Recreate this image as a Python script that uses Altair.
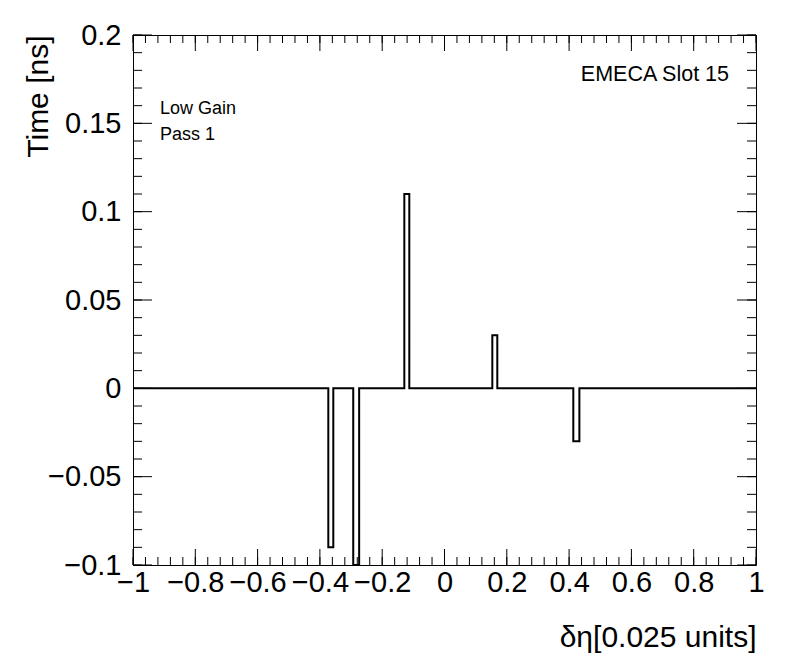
import altair as alt
import pandas as pd

# Histogram outline: bin edges (delta eta) and bin contents (time, ns)
edges = [-1.0, -0.373, -0.357, -0.293, -0.274, -0.129, -0.113, 0.1535, 0.1695, 0.4135, 0.433, 1.0]
contents = [0.0, -0.09, 0.0, -0.1, 0.0, 0.11, 0.0, 0.03, 0.0, -0.03, 0.0]

x_major = [-1, -0.8, -0.6, -0.4, -0.2, 0, 0.2, 0.4, 0.6, 0.8, 1]
y_major = [-0.1, -0.05, 0, 0.05, 0.1, 0.15, 0.2]

labels_left = ["Low Gain", "Pass 1"]
label_right = ["EMECA Slot 15"]

x_title = "δη[0.025 units]"
y_title = "Time [ns]"

W, H = 623, 530
FONT = "Liberation Sans"

x_minor = [round(-1 + 0.04 * i, 2) for i in range(51)]
y_minor = [round(-0.1 + 0.01 * i, 2) for i in range(31)]

xs = alt.Scale(domain=[-1, 1], nice=False, zero=False)
ys = alt.Scale(domain=[-0.1, 0.2], nice=False, zero=False)

step_df = pd.DataFrame({"x": edges, "y": contents + [contents[-1]]})

x_axis = alt.Axis(
    values=x_major, format="~g", ticks=False, tickSize=0, domain=False, grid=False,
    labelFont=FONT, labelFontSize=29, labelColor="black", labelPadding=3, labelFlush=False,
    title=x_title, titleFont=FONT, titleFontSize=30, titleFontWeight="normal", titleColor="black",
    titleX=W, titleY=72, titleAlign="right", titleBaseline="middle",
)
y_axis = alt.Axis(
    values=y_major, format="~g", ticks=False, tickSize=0, domain=False, grid=False,
    labelFont=FONT, labelFontSize=29, labelColor="black", labelPadding=12, labelFlush=False,
    title=y_title, titleFont=FONT, titleFontSize=30, titleFontWeight="normal", titleColor="black",
    titleX=-80, titleY=0, titleAlign="right", titleBaseline="bottom", titleAngle=270,
)

X = alt.X("x:Q", scale=xs, axis=x_axis)
Y = alt.Y("y:Q", scale=ys, axis=y_axis)

hist = alt.Chart(step_df).mark_line(
    interpolate="step-after", color="black", strokeWidth=2, clip=True
).encode(x=X, y=Y)


def tick_layer(vals, side, length):
    if side in ("bottom", "top"):
        df = pd.DataFrame({"x": vals})
    else:
        df = pd.DataFrame({"y": vals})
    base = alt.Chart(df).mark_rule(color="black", strokeWidth=1)
    if side == "bottom":
        return base.encode(x=X, y=alt.value(H), y2=alt.value(H - length))
    if side == "top":
        return base.encode(x=X, y=alt.value(0), y2=alt.value(length))
    if side == "left":
        return base.encode(y=Y, x=alt.value(0), x2=alt.value(length))
    return base.encode(y=Y, x=alt.value(W), x2=alt.value(W - length))


tick_layers = [
    tick_layer(x_major, "bottom", 16), tick_layer(x_minor, "bottom", 8),
    tick_layer(x_major, "top", 16), tick_layer(x_minor, "top", 8),
    tick_layer(y_major, "left", 19), tick_layer(y_minor, "left", 9),
    tick_layer(y_major, "right", 19), tick_layer(y_minor, "right", 9),
]

txt_l1 = alt.Chart(pd.DataFrame({"t": [labels_left[0]]})).mark_text(
    align="left", baseline="middle", font=FONT, fontSize=18, color="black"
).encode(x=alt.value(27), y=alt.value(74), text="t:N")
txt_l2 = alt.Chart(pd.DataFrame({"t": [labels_left[1]]})).mark_text(
    align="left", baseline="middle", font=FONT, fontSize=18, color="black"
).encode(x=alt.value(27), y=alt.value(100), text="t:N")
txt_r = alt.Chart(pd.DataFrame({"t": label_right})).mark_text(
    align="right", baseline="middle", font=FONT, fontSize=21.5, color="black"
).encode(x=alt.value(596), y=alt.value(40), text="t:N")

chart = alt.layer(hist, *tick_layers, txt_l1, txt_l2, txt_r).properties(
    width=W, height=H,
    autosize=alt.AutoSizeParams(type="none"),
    padding={"left": 125, "top": 27, "right": 32, "bottom": 99},
    background="white",
).configure_view(stroke="black", strokeWidth=1)

chart.save("out.html", embed_options={"renderer": "svg", "actions": False})
